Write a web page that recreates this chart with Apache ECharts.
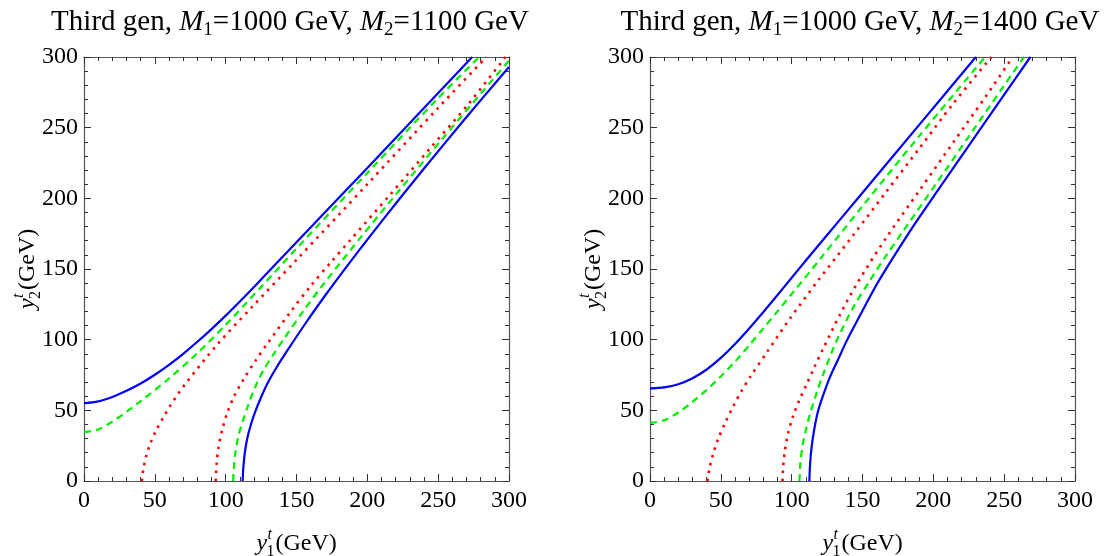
<!DOCTYPE html>
<html><head><meta charset="utf-8">
<script src="https://cdn.jsdelivr.net/npm/echarts@6/dist/echarts.min.js"></script>
<style>html,body{margin:0;padding:0;background:#fff}#c{width:1107px;height:556px}</style>
</head><body><div id="c"></div>
<script>
// ---- data ----
const axisMin = 0, axisMax = 300, axisStep = 50;
const panelM1 = ['1000', '1000'];
const panelM2 = ['1100', '1400'];

// Left panel: M1=1000, M2=1100
const blueUpL = [[0,55],[10,56.3],[20,59.5],[30,63.8],[40,69],[50,75.2],[60,82.2],[70,90],[80,98.5],[90,107.5],[100,117],[110,127],[120,137.3],[150,169],[200,221.5],[250,274.5],[274,300]];
const greenUpL = [[0,34.5],[10,36.5],[20,42],[30,49],[40,56.5],[60,72.5],[80,90.5],[100,110.5],[125,137.3],[150,164.5],[200,218],[250,271],[279,300]];
const redUpL = [[40.8,0],[42,9],[44,18],[47,27],[51,36],[56,45],[61,53.5],[66,61],[72.5,70],[94,96.5],[118,122.5],[150,156.5],[200,210],[250,264],[284,300]];
const redLoL = [[93,0],[93.6,12],[95,24],[97.5,36],[101,48],[106,60],[113,72.5],[121,85],[130,98],[146,120],[160,138],[174,154.5],[188,170.5],[216,202.5],[244,235],[272,267.5],[297.5,300]];
const greenLoL = [[105.3,0],[105.8,10],[107,21],[109,32],[112,42],[116,54],[121,67],[127,79],[134,90],[141,100.5],[155,120.5],[168,138],[195,172],[223,206.2],[253,242.2],[282,276.4],[300,297.5]];
const blueLoL = [[112,0],[112.5,10],[113.5,20],[115.2,30],[117.8,40],[121,49.5],[125,59.3],[130,70],[136,80.5],[143,91.5],[157,112.5],[171,132.3],[185,151.2],[200,170.8],[225,202.5],[254,238.2],[282,271.8],[300,292.9]];

// Right panel: M1=1000, M2=1400
const blueUpR = [[0,65.5],[10,66.3],[20,68.5],[30,72.7],[40,78.9],[50,87.1],[60,96.9],[70,107.9],[80,119.6],[90,131.6],[100,143.8],[110,156],[120,168],[150,204],[190,252],[230,300]];
const greenUpR = [[0,41],[10,43],[20,48.5],[30,56],[40,64.5],[50,74],[60,84.5],[70,96],[80,108],[90,120],[100,132.3],[120,157],[150,194.5],[190,244],[236.5,300]];
const redUpR = [[40.5,0],[42,9],[44.5,19],[48,29.5],[53,41],[58.8,53],[64.5,63.5],[70.6,73.5],[82.4,91],[98.8,115],[118.8,142],[143.5,174],[167,205],[190.6,236],[214,267],[241,300]];
const redLoR = [[93.5,0],[94,10],[95.3,22],[97.5,34],[101,46],[105.5,57.5],[110.6,68.5],[116,80.5],[122.4,94],[134,117.5],[146,139.5],[167,172.5],[190.5,206],[214,239.5],[238,273.5],[256,300]];
const greenLoR = [[105.5,0],[106,11],[107.5,24],[110,36],[113,47.5],[117.5,62],[122.4,76],[131.8,99.5],[143.5,123],[155,141.5],[166,158.5],[178.8,177],[202.4,211],[225.9,245],[249.4,279],[264,300]];
const blueLoR = [[112.5,0],[113,12],[114.2,25],[116,37],[118.5,49],[122,60],[127,73.5],[133,86.5],[139,99.5],[150,120.5],[160,139],[170,155.5],[180,171.3],[190,186.5],[202.4,204.5],[225.9,238.5],[249.4,272.5],[268.5,300]];

// ---- chart ----
const FONT = '"Liberation Serif","DejaVu Serif",serif';
const grids = [
  {left: 84, top: 57, width: 425, height: 424},
  {left: 650, top: 57, width: 425, height: 424}
];

function xAx(g, pos) {
  return {
    type: 'value', gridIndex: g, min: axisMin, max: axisMax, interval: axisStep, position: pos,
    axisLine: {show: true, onZero: false, lineStyle: {color: '#555', width: 1.2}},
    axisTick: {show: true, inside: true, length: 7, lineStyle: {color: '#333', width: 1}},
    minorTick: {show: true, splitNumber: 5, length: 4, lineStyle: {color: '#333', width: 1}},
    splitLine: {show: false},
    axisLabel: {show: pos === 'bottom', fontFamily: FONT, fontSize: 24, color: '#000', margin: 8,
      showMinLabel: true, showMaxLabel: true}
  };
}
function yAx(g, pos) {
  return {
    type: 'value', gridIndex: g, min: axisMin, max: axisMax, interval: axisStep, position: pos,
    axisLine: {show: true, onZero: false, lineStyle: {color: '#555', width: 1.2}},
    axisTick: {show: true, inside: true, length: 7, lineStyle: {color: '#333', width: 1}},
    minorTick: {show: true, splitNumber: 5, length: 4, lineStyle: {color: '#333', width: 1}},
    splitLine: {show: false},
    axisLabel: {show: pos === 'left', fontFamily: FONT, fontSize: 24, color: '#000', margin: 6,
      showMinLabel: true, showMaxLabel: true}
  };
}

const styles = {
  blue: {color: '#0000ff', width: 2.2, type: 'solid'},
  green: {color: '#00f000', width: 2.2, type: [7, 5]},
  red: {color: '#ff0000', width: 2.6, type: [2.5, 5.5]}
};
function ser(data, st, g) {
  return {
    type: 'line', xAxisIndex: g * 2, yAxisIndex: g * 2, data: data,
    showSymbol: false, symbol: 'none', smooth: 0.3, clip: true,
    lineStyle: Object.assign({}, styles[st]), silent: true, animation: false
  };
}

const series = [
  ser(redUpL, 'red', 0), ser(redLoL, 'red', 0),
  ser(greenUpL, 'green', 0), ser(greenLoL, 'green', 0),
  ser(blueUpL, 'blue', 0), ser(blueLoL, 'blue', 0),
  ser(redUpR, 'red', 1), ser(redLoR, 'red', 1),
  ser(greenUpR, 'green', 1), ser(greenLoR, 'green', 1),
  ser(blueUpR, 'blue', 1), ser(blueLoR, 'blue', 1)
];

// titles and axis names as text graphics
const titleRich = {
  n: {fontFamily: FONT, fontSize: 29, color: '#000'},
  i: {fontFamily: FONT, fontSize: 29, fontStyle: 'italic', color: '#000'},
  s: {fontFamily: FONT, fontSize: 19, color: '#000', padding: [17, 0, 0, 0]}
};
function titleText(k) {
  return '{n|Third gen, }{i|M}{s|1}{n|=' + panelM1[k] + ' GeV, }{i|M}{s|2}{n|=' + panelM2[k] + ' GeV}';
}
function nameGroup(cx, cy, rot, sub) {
  // y^t_sub(GeV), centred at (cx, cy)
  const w = 80;
  const x0 = -w / 2;
  return {
    type: 'group', x: cx, y: cy, rotation: rot, silent: true,
    children: [
      {type: 'text', x: x0, y: 0, style: {text: 'y', font: 'italic 24px ' + FONT, fill: '#000', align: 'left', verticalAlign: 'middle'}},
      {type: 'text', x: x0 + 11, y: -9, style: {text: 't', font: 'italic 16px ' + FONT, fill: '#000', align: 'left', verticalAlign: 'middle'}},
      {type: 'text', x: x0 + 10, y: 8, style: {text: sub, font: '16px ' + FONT, fill: '#000', align: 'left', verticalAlign: 'middle'}},
      {type: 'text', x: x0 + 19, y: 0, style: {text: '(GeV)', font: '24px ' + FONT, fill: '#000', align: 'left', verticalAlign: 'middle'}}
    ]
  };
}

const graphic = [
  {type: 'text', x: 290, y: 22, silent: true, style: {text: titleText(0), rich: titleRich, align: 'center', verticalAlign: 'middle', fill: '#000'}},
  {type: 'text', x: 860, y: 22, silent: true, style: {text: titleText(1), rich: titleRich, align: 'center', verticalAlign: 'middle', fill: '#000'}},
  nameGroup(296.5, 544, 0, '1'),
  nameGroup(862.5, 544, 0, '1'),
  nameGroup(28, 269, Math.PI / 2, '2'),
  nameGroup(594, 269, Math.PI / 2, '2')
];

const chart = echarts.init(document.getElementById('c'), null, {renderer: 'canvas'});
chart.setOption({
  animation: false,
  backgroundColor: '#fff',
  grid: grids,
  xAxis: [xAx(0, 'bottom'), xAx(0, 'top'), xAx(1, 'bottom'), xAx(1, 'top')],
  yAxis: [yAx(0, 'left'), yAx(0, 'right'), yAx(1, 'left'), yAx(1, 'right')],
  series: series,
  graphic: graphic
});
</script>
</body></html>
